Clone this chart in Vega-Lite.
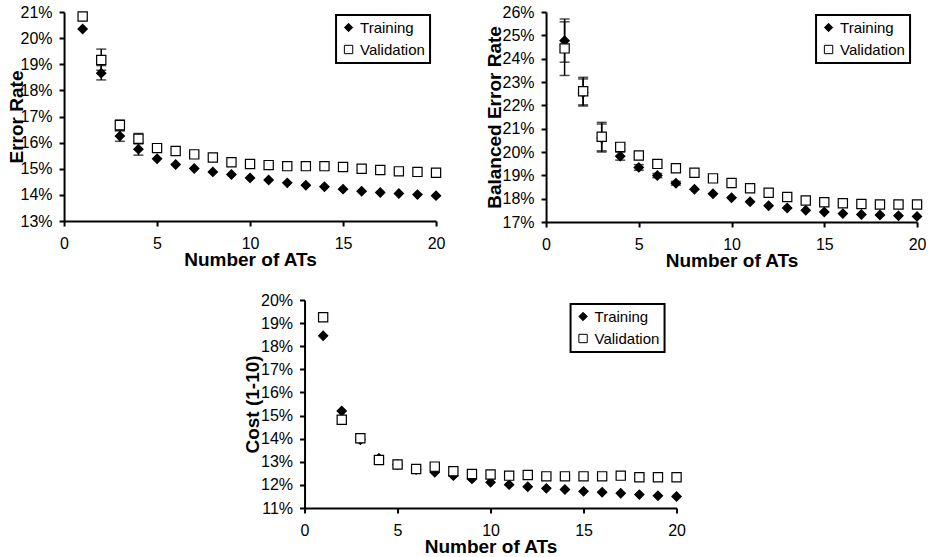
{
  "$schema": "https://vega.github.io/schema/vega-lite/v6.json",
  "background": "white",
  "padding": {"left": 7, "top": 4, "right": 0, "bottom": 0},
  "config": {
    "view": {"stroke": null},
    "font": "Liberation Sans",
    "axis": {
      "grid": false,
      "domainColor": "black",
      "domainWidth": 2,
      "tickColor": "black",
      "tickWidth": 2,
      "tickSize": 5,
      "labelOverlap": false,
      "labelFont": "Liberation Sans",
      "labelFontSize": 16,
      "labelColor": "black",
      "titleFont": "Liberation Sans",
      "titleFontSize": 19,
      "titleFontWeight": "bold",
      "titleColor": "black"
    },
    "legend": {
      "labelFont": "Liberation Sans",
      "labelFontSize": 15,
      "labelColor": "black",
      "symbolSize": 70,
      "symbolStrokeColor": "black",
      "symbolStrokeWidth": 1,
      "strokeColor": "black",
      "strokeWidth": 2,
      "fillColor": "white",
      "padding": 5,
      "rowPadding": 6,
      "labelOffset": 4
    }
  },
  "datasets": {
    "p1": [
      {"n": 1, "series": "Training", "rate": 20.35}, {"n": 2, "series": "Training", "rate": 18.66}, {"n": 3, "series": "Training", "rate": 16.25}, {"n": 4, "series": "Training", "rate": 15.75}, {"n": 5, "series": "Training", "rate": 15.38}, {"n": 6, "series": "Training", "rate": 15.16}, {"n": 7, "series": "Training", "rate": 15.01}, {"n": 8, "series": "Training", "rate": 14.88}, {"n": 9, "series": "Training", "rate": 14.78}, {"n": 10, "series": "Training", "rate": 14.65}, {"n": 11, "series": "Training", "rate": 14.57}, {"n": 12, "series": "Training", "rate": 14.46}, {"n": 13, "series": "Training", "rate": 14.37}, {"n": 14, "series": "Training", "rate": 14.31}, {"n": 15, "series": "Training", "rate": 14.22}, {"n": 16, "series": "Training", "rate": 14.14}, {"n": 17, "series": "Training", "rate": 14.09}, {"n": 18, "series": "Training", "rate": 14.05}, {"n": 19, "series": "Training", "rate": 14.01}, {"n": 20, "series": "Training", "rate": 13.97},
      {"n": 1, "series": "Validation", "rate": 20.83}, {"n": 2, "series": "Validation", "rate": 19.16}, {"n": 3, "series": "Validation", "rate": 16.67}, {"n": 4, "series": "Validation", "rate": 16.15}, {"n": 5, "series": "Validation", "rate": 15.79}, {"n": 6, "series": "Validation", "rate": 15.68}, {"n": 7, "series": "Validation", "rate": 15.55}, {"n": 8, "series": "Validation", "rate": 15.43}, {"n": 9, "series": "Validation", "rate": 15.25}, {"n": 10, "series": "Validation", "rate": 15.18}, {"n": 11, "series": "Validation", "rate": 15.14}, {"n": 12, "series": "Validation", "rate": 15.1}, {"n": 13, "series": "Validation", "rate": 15.1}, {"n": 14, "series": "Validation", "rate": 15.1}, {"n": 15, "series": "Validation", "rate": 15.07}, {"n": 16, "series": "Validation", "rate": 15.0}, {"n": 17, "series": "Validation", "rate": 14.95}, {"n": 18, "series": "Validation", "rate": 14.9}, {"n": 19, "series": "Validation", "rate": 14.88}, {"n": 20, "series": "Validation", "rate": 14.85}
    ],
    "e1": [
      {"n": 2, "series": "Training", "lo": 18.4, "hi": 18.95}, {"n": 3, "series": "Training", "lo": 16.05, "hi": 16.45}, {"n": 4, "series": "Training", "lo": 15.52, "hi": 15.98},
      {"n": 2, "series": "Validation", "lo": 18.77, "hi": 19.58}, {"n": 3, "series": "Validation", "lo": 16.47, "hi": 16.87}, {"n": 4, "series": "Validation", "lo": 15.95, "hi": 16.35}
    ],
    "p2": [
      {"n": 1, "series": "Training", "rate": 24.77}, {"n": 2, "series": "Training", "rate": 22.55}, {"n": 3, "series": "Training", "rate": 20.6}, {"n": 4, "series": "Training", "rate": 19.82}, {"n": 5, "series": "Training", "rate": 19.34}, {"n": 6, "series": "Training", "rate": 18.99}, {"n": 7, "series": "Training", "rate": 18.66}, {"n": 8, "series": "Training", "rate": 18.4}, {"n": 9, "series": "Training", "rate": 18.21}, {"n": 10, "series": "Training", "rate": 18.04}, {"n": 11, "series": "Training", "rate": 17.87}, {"n": 12, "series": "Training", "rate": 17.7}, {"n": 13, "series": "Training", "rate": 17.6}, {"n": 14, "series": "Training", "rate": 17.5}, {"n": 15, "series": "Training", "rate": 17.43}, {"n": 16, "series": "Training", "rate": 17.36}, {"n": 17, "series": "Training", "rate": 17.32}, {"n": 18, "series": "Training", "rate": 17.3}, {"n": 19, "series": "Training", "rate": 17.27}, {"n": 20, "series": "Training", "rate": 17.24},
      {"n": 1, "series": "Validation", "rate": 24.44}, {"n": 2, "series": "Validation", "rate": 22.6}, {"n": 3, "series": "Validation", "rate": 20.65}, {"n": 4, "series": "Validation", "rate": 20.22}, {"n": 5, "series": "Validation", "rate": 19.85}, {"n": 6, "series": "Validation", "rate": 19.49}, {"n": 7, "series": "Validation", "rate": 19.3}, {"n": 8, "series": "Validation", "rate": 19.11}, {"n": 9, "series": "Validation", "rate": 18.87}, {"n": 10, "series": "Validation", "rate": 18.67}, {"n": 11, "series": "Validation", "rate": 18.45}, {"n": 12, "series": "Validation", "rate": 18.25}, {"n": 13, "series": "Validation", "rate": 18.07}, {"n": 14, "series": "Validation", "rate": 17.92}, {"n": 15, "series": "Validation", "rate": 17.85}, {"n": 16, "series": "Validation", "rate": 17.8}, {"n": 17, "series": "Validation", "rate": 17.77}, {"n": 18, "series": "Validation", "rate": 17.75}, {"n": 19, "series": "Validation", "rate": 17.75}, {"n": 20, "series": "Validation", "rate": 17.75}
    ],
    "e2": [
      {"n": 1, "series": "Training", "lo": 23.85, "hi": 25.7}, {"n": 2, "series": "Training", "lo": 21.97, "hi": 23.13}, {"n": 3, "series": "Training", "lo": 20.0, "hi": 21.2}, {"n": 4, "series": "Training", "lo": 19.65, "hi": 19.99}, {"n": 5, "series": "Training", "lo": 19.22, "hi": 19.46}, {"n": 6, "series": "Training", "lo": 18.9, "hi": 19.08}, {"n": 7, "series": "Training", "lo": 18.58, "hi": 18.74},
      {"n": 1, "series": "Validation", "lo": 23.28, "hi": 25.58}, {"n": 2, "series": "Validation", "lo": 22.02, "hi": 23.2}, {"n": 3, "series": "Validation", "lo": 20.05, "hi": 21.27}, {"n": 4, "series": "Validation", "lo": 20.1, "hi": 20.34}
    ],
    "p3": [
      {"n": 1, "series": "Training", "rate": 18.45}, {"n": 2, "series": "Training", "rate": 15.2}, {"n": 3, "series": "Training", "rate": 13.95}, {"n": 4, "series": "Training", "rate": 13.15}, {"n": 5, "series": "Training", "rate": 12.88}, {"n": 6, "series": "Training", "rate": 12.66}, {"n": 7, "series": "Training", "rate": 12.55}, {"n": 8, "series": "Training", "rate": 12.4}, {"n": 9, "series": "Training", "rate": 12.26}, {"n": 10, "series": "Training", "rate": 12.11}, {"n": 11, "series": "Training", "rate": 12.01}, {"n": 12, "series": "Training", "rate": 11.92}, {"n": 13, "series": "Training", "rate": 11.85}, {"n": 14, "series": "Training", "rate": 11.8}, {"n": 15, "series": "Training", "rate": 11.72}, {"n": 16, "series": "Training", "rate": 11.68}, {"n": 17, "series": "Training", "rate": 11.64}, {"n": 18, "series": "Training", "rate": 11.58}, {"n": 19, "series": "Training", "rate": 11.53}, {"n": 20, "series": "Training", "rate": 11.5},
      {"n": 1, "series": "Validation", "rate": 19.25}, {"n": 2, "series": "Validation", "rate": 14.82}, {"n": 3, "series": "Validation", "rate": 14.02}, {"n": 4, "series": "Validation", "rate": 13.08}, {"n": 5, "series": "Validation", "rate": 12.88}, {"n": 6, "series": "Validation", "rate": 12.69}, {"n": 7, "series": "Validation", "rate": 12.79}, {"n": 8, "series": "Validation", "rate": 12.59}, {"n": 9, "series": "Validation", "rate": 12.47}, {"n": 10, "series": "Validation", "rate": 12.45}, {"n": 11, "series": "Validation", "rate": 12.4}, {"n": 12, "series": "Validation", "rate": 12.43}, {"n": 13, "series": "Validation", "rate": 12.37}, {"n": 14, "series": "Validation", "rate": 12.37}, {"n": 15, "series": "Validation", "rate": 12.37}, {"n": 16, "series": "Validation", "rate": 12.37}, {"n": 17, "series": "Validation", "rate": 12.4}, {"n": 18, "series": "Validation", "rate": 12.33}, {"n": 19, "series": "Validation", "rate": 12.33}, {"n": 20, "series": "Validation", "rate": 12.33}
    ],
    "e3": [
      {"n": 18, "series": "Validation", "lo": 12.23, "hi": 12.43}, {"n": 19, "series": "Validation", "lo": 12.23, "hi": 12.43}
    ]
  },
  "vconcat": [
    {
      "hconcat": [
        {
          "width": 372, "height": 209,
          "layer": [
            {
              "data": {"name": "e1"},
              "mark": {"type": "errorbar", "ticks": {"size": 10}, "thickness": 1.5, "color": "black"},
              "encoding": {
                "x": {"field": "n", "type": "quantitative", "title": "Number of ATs", "scale": {"domain": [0, 20], "nice": false}, "axis": {"values": [0, 5, 10, 15, 20], "labelFlush": false, "labelPadding": 9, "titleY": 44, "titleBaseline": "alphabetic"}},
                "y": {"field": "lo", "type": "quantitative", "title": "Error Rate", "scale": {"domain": [13, 21], "nice": false, "zero": false}, "axis": {"values": [13, 14, 15, 16, 17, 18, 19, 20, 21], "labelExpr": "datum.value + '%'", "labelPadding": 7, "titleX": -42, "titleBaseline": "alphabetic"}},
                "y2": {"field": "hi"}
              }
            },
            {
              "data": {"name": "p1"},
              "mark": {"type": "point", "filled": true, "stroke": "black", "strokeWidth": 1.2, "size": 85, "opacity": 1},
              "encoding": {
                "x": {"field": "n", "type": "quantitative", "title": "Number of ATs", "scale": {"domain": [0, 20], "nice": false}, "axis": {"values": [0, 5, 10, 15, 20], "labelFlush": false, "labelPadding": 9, "titleY": 44, "titleBaseline": "alphabetic"}},
                "y": {"field": "rate", "type": "quantitative", "title": "Error Rate", "scale": {"domain": [13, 21], "nice": false, "zero": false}, "axis": {"values": [13, 14, 15, 16, 17, 18, 19, 20, 21], "labelExpr": "datum.value + '%'", "labelPadding": 7, "titleX": -42, "titleBaseline": "alphabetic"}},
                "shape": {"field": "series", "type": "nominal", "scale": {"domain": ["Training", "Validation"], "range": ["diamond", "square"]}, "legend": {"title": null, "orient": "none", "legendX": 272, "legendY": 3, "encode": {"legend": {"update": {"strokeWidth": {"value": 2}}}}}},
                "fill": {"field": "series", "type": "nominal", "scale": {"domain": ["Training", "Validation"], "range": ["black", "white"]}, "legend": {"title": null, "orient": "none", "legendX": 272, "legendY": 3, "encode": {"legend": {"update": {"strokeWidth": {"value": 2}}}}}},
                "stroke": {"field": "series", "type": "nominal", "scale": {"domain": ["Training", "Validation"], "range": ["black", "black"]}, "legend": {"title": null, "orient": "none", "legendX": 272, "legendY": 3, "encode": {"legend": {"update": {"strokeWidth": {"value": 2}}}}}}
              }
            }
          ]
        },
        {
          "width": 371, "height": 210,
          "layer": [
            {
              "data": {"name": "e2"},
              "mark": {"type": "errorbar", "ticks": {"size": 10}, "thickness": 1.5, "color": "black"},
              "encoding": {
                "x": {"field": "n", "type": "quantitative", "title": "Number of ATs", "scale": {"domain": [0, 20], "nice": false}, "axis": {"values": [0, 5, 10, 15, 20], "labelFlush": false, "labelPadding": 9, "titleY": 44, "titleBaseline": "alphabetic"}},
                "y": {"field": "lo", "type": "quantitative", "title": "Balanced Error Rate", "scale": {"domain": [17, 26], "nice": false, "zero": false}, "axis": {"values": [17, 18, 19, 20, 21, 22, 23, 24, 25, 26], "labelExpr": "datum.value + '%'", "labelPadding": 7, "titleX": -46, "titleBaseline": "alphabetic"}},
                "y2": {"field": "hi"}
              }
            },
            {
              "data": {"name": "p2"},
              "mark": {"type": "point", "filled": true, "stroke": "black", "strokeWidth": 1.2, "size": 85, "opacity": 1},
              "encoding": {
                "x": {"field": "n", "type": "quantitative", "title": "Number of ATs", "scale": {"domain": [0, 20], "nice": false}, "axis": {"values": [0, 5, 10, 15, 20], "labelFlush": false, "labelPadding": 9, "titleY": 44, "titleBaseline": "alphabetic"}},
                "y": {"field": "rate", "type": "quantitative", "title": "Balanced Error Rate", "scale": {"domain": [17, 26], "nice": false, "zero": false}, "axis": {"values": [17, 18, 19, 20, 21, 22, 23, 24, 25, 26], "labelExpr": "datum.value + '%'", "labelPadding": 7, "titleX": -46, "titleBaseline": "alphabetic"}},
                "shape": {"field": "series", "type": "nominal", "scale": {"domain": ["Training", "Validation"], "range": ["diamond", "square"]}, "legend": {"title": null, "orient": "none", "legendX": 270, "legendY": 3, "encode": {"legend": {"update": {"strokeWidth": {"value": 2}}}}}},
                "fill": {"field": "series", "type": "nominal", "scale": {"domain": ["Training", "Validation"], "range": ["black", "white"]}, "legend": {"title": null, "orient": "none", "legendX": 270, "legendY": 3, "encode": {"legend": {"update": {"strokeWidth": {"value": 2}}}}}},
                "stroke": {"field": "series", "type": "nominal", "scale": {"domain": ["Training", "Validation"], "range": ["black", "black"]}, "legend": {"title": null, "orient": "none", "legendX": 270, "legendY": 3, "encode": {"legend": {"update": {"strokeWidth": {"value": 2}}}}}}
              }
            }
          ]
        }
      ],
      "spacing": 110,
      "bounds": "flush",
      "resolve": {"scale": {"shape": "independent", "fill": "independent", "stroke": "independent"}, "legend": {"shape": "independent", "fill": "independent", "stroke": "independent"}}
    },
    {
      "width": 372, "height": 208,
      "layer": [
        {
          "data": {"name": "e3"},
          "mark": {"type": "errorbar", "ticks": {"size": 10}, "thickness": 1.5, "color": "black"},
          "encoding": {
            "x": {"field": "n", "type": "quantitative", "title": "Number of ATs", "scale": {"domain": [0, 20], "nice": false}, "axis": {"values": [0, 5, 10, 15, 20], "labelFlush": false, "labelPadding": 9, "titleY": 44, "titleBaseline": "alphabetic"}},
            "y": {"field": "lo", "type": "quantitative", "title": "Cost (1-10)", "scale": {"domain": [11, 20], "nice": false, "zero": false}, "axis": {"values": [11, 12, 13, 14, 15, 16, 17, 18, 19, 20], "labelExpr": "datum.value + '%'", "labelPadding": 7, "titleX": -46, "titleBaseline": "alphabetic"}},
            "y2": {"field": "hi"}
          }
        },
        {
          "data": {"name": "p3"},
          "mark": {"type": "point", "filled": true, "stroke": "black", "strokeWidth": 1.2, "size": 85, "opacity": 1},
          "encoding": {
            "x": {"field": "n", "type": "quantitative", "title": "Number of ATs", "scale": {"domain": [0, 20], "nice": false}, "axis": {"values": [0, 5, 10, 15, 20], "labelFlush": false, "labelPadding": 9, "titleY": 44, "titleBaseline": "alphabetic"}},
            "y": {"field": "rate", "type": "quantitative", "title": "Cost (1-10)", "scale": {"domain": [11, 20], "nice": false, "zero": false}, "axis": {"values": [11, 12, 13, 14, 15, 16, 17, 18, 19, 20], "labelExpr": "datum.value + '%'", "labelPadding": 7, "titleX": -46, "titleBaseline": "alphabetic"}},
            "shape": {"field": "series", "type": "nominal", "scale": {"domain": ["Training", "Validation"], "range": ["diamond", "square"]}, "legend": {"title": null, "orient": "none", "legendX": 266, "legendY": 4, "encode": {"legend": {"update": {"strokeWidth": {"value": 2}}}}}},
            "fill": {"field": "series", "type": "nominal", "scale": {"domain": ["Training", "Validation"], "range": ["black", "white"]}, "legend": {"title": null, "orient": "none", "legendX": 266, "legendY": 4, "encode": {"legend": {"update": {"strokeWidth": {"value": 2}}}}}},
            "stroke": {"field": "series", "type": "nominal", "scale": {"domain": ["Training", "Validation"], "range": ["black", "black"]}, "legend": {"title": null, "orient": "none", "legendX": 266, "legendY": 4, "encode": {"legend": {"update": {"strokeWidth": {"value": 2}}}}}}
          }
        }
      ]
    }
  ],
  "spacing": 22,
  "center": true,
  "bounds": "full",
  "resolve": {"scale": {"shape": "independent", "fill": "independent", "stroke": "independent"}, "legend": {"shape": "independent", "fill": "independent", "stroke": "independent"}}
}
